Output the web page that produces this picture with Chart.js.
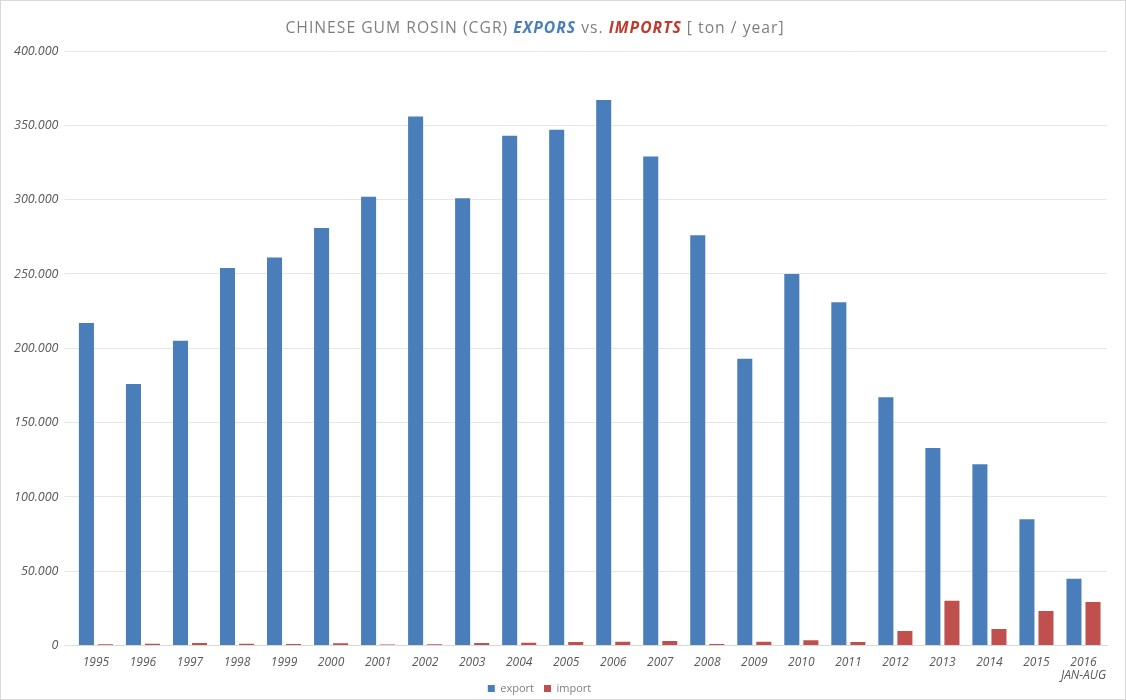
<!DOCTYPE html>
<html>
<head>
<meta charset="utf-8">
<script src="https://cdn.jsdelivr.net/npm/chart.js@4.4.1/dist/chart.umd.min.js"></script>
<style>
  html, body { margin: 0; padding: 0; background: #fff; }
  #wrap { position: relative; width: 1126px; height: 700px; box-sizing: border-box; border: 1px solid #d9d9d9; }
  #title { position: absolute; top: 15px; left: 0; width: 1068px; text-align: center; letter-spacing: 1px;
           font-family: "Open Sans", sans-serif; font-size: 15.7px; color: #7f7f7f; }
  #title .exp { color: #4a7ebb; font-weight: bold; font-style: italic; }
  #title .imp { color: #c0392b; font-weight: bold; font-style: italic; }
</style>
</head>
<body>
<div id="wrap">
  <div id="title">CHINESE GUM ROSIN (CGR) <span class="exp">EXPORS</span> vs. <span class="imp">IMPORTS</span> [ ton / year]</div>
  <canvas id="chart" width="1124" height="698"></canvas>
</div>
<script>
// years on the x axis, last one is a partial year
const years = ["1995", "1996", "1997", "1998", "1999", "2000", "2001", "2002", "2003", "2004", "2005",
  "2006", "2007", "2008", "2009", "2010", "2011", "2012", "2013", "2014", "2015", ["2016", "JAN-AUG"]];

// tons per year
const exportTons = [217000, 176000, 205000, 254000, 261000, 281000, 302000, 356000, 301000, 343000, 347000,
  367000, 329000, 276000, 193000, 250000, 231000, 167000, 133000, 122000, 85000, 45000];
const importTons = [900, 1300, 1800, 1300, 1100, 1600, 700, 900, 1800, 2000, 2500,
  2600, 3100, 1000, 2600, 3600, 2400, 9800, 30200, 11200, 23300, 29300];

const yTicks = [0, 50000, 100000, 150000, 200000, 250000, 300000, 350000, 400000];

const fmt = v => v === 0 ? "0" : v.toLocaleString("de-DE");

const LEGEND_PAD = 10;

// legend: keep the item gap but pull it up and a bit left, like the original
const shiftLegend = {
  id: "shiftLegend",
  afterLayout(chart) {
    const lg = chart.legend;
    lg.left -= 18;
    lg.right -= 18;
    lg.top -= LEGEND_PAD + 1;
    lg.bottom -= LEGEND_PAD + 1;
  }
};

const ctx = document.getElementById("chart").getContext("2d");
new Chart(ctx, {
  type: "bar",
  data: {
    labels: years,
    datasets: [
      { label: "export", data: exportTons, backgroundColor: "#4a7ebb" },
      { label: "import", data: importTons, backgroundColor: "#c0504d" }
    ]
  },
  options: {
    responsive: false,
    animation: false,
    layout: { padding: { top: 50, right: 18, left: 7, bottom: -6 - LEGEND_PAD } },
    datasets: { bar: { categoryPercentage: 0.81, barPercentage: 0.79 } },
    plugins: {
      title: { display: false },
      tooltip: { enabled: false },
      legend: {
        position: "bottom",
        labels: {
          boxWidth: 7, boxHeight: 7, padding: LEGEND_PAD, color: "#7f7f7f",
          font: { family: "Open Sans", size: 11 }
        }
      }
    },
    scales: {
      x: {
        grid: { display: false },
        border: { color: "#d9d9d9" },
        ticks: {
          color: "#595959", maxRotation: 0, autoSkip: false, padding: 2,
          font: { family: "Open Sans", size: 12, style: "italic", lineHeight: 1.1 }
        }
      },
      y: {
        min: 0, max: 400000,
        afterBuildTicks: axis => { axis.ticks = yTicks.map(v => ({ value: v })); },
        grid: { color: "#e6e6e6" },
        border: { display: false },
        ticks: {
          color: "#595959", padding: 6,
          font: { family: "Open Sans", size: 12.5, style: "italic" },
          callback: v => fmt(v)
        }
      }
    }
  },
  plugins: [shiftLegend]
});
</script>
</body>
</html>
